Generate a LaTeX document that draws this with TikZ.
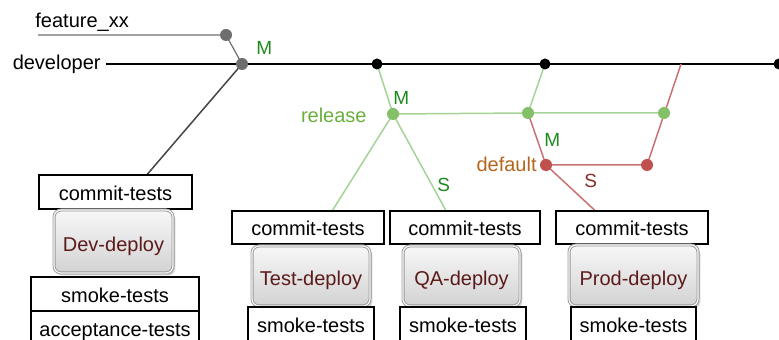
\documentclass[tikz,border=0pt]{standalone}
\usepackage{fontspec}
\setmainfont{Liberation Sans}
\usetikzlibrary{calc,shadows}
\pgfdeclarelayer{bg}
\pgfsetlayers{bg,main}

\definecolor{branchgray}{HTML}{6E6E6E}
\definecolor{mergegray}{HTML}{454545}
\definecolor{relline}{HTML}{A5D396}
\definecolor{reldot}{HTML}{84C068}
\definecolor{reltext}{HTML}{6AAF3D}
\definecolor{markgreen}{HTML}{1E8A1E}
\definecolor{defline}{HTML}{C87272}
\definecolor{defdot}{HTML}{C0504D}
\definecolor{deftext}{HTML}{B5651D}
\definecolor{markred}{HTML}{8B2B2B}
\definecolor{btntext}{HTML}{5C1A1A}

\begin{document}
\begin{tikzpicture}[x=0.5pt,y=-0.5pt,
  testbox/.style={draw=black, line width=0.7pt, fill=white, inner sep=0pt,
    font=\fontsize{10}{12}\selectfont, text height=8.5pt, text depth=0pt},
  deploybtn/.style={rounded corners=3.5pt, draw=gray!80, line width=0.45pt,
    double=gray!6, double distance=0.6pt,
    top color=gray!6, bottom color=gray!35, inner sep=0pt,
    text=btntext, font=\fontsize{10}{12}\selectfont,
    text height=10pt, text depth=0pt,
    drop shadow={opacity=0.35, shadow xshift=1.2pt, shadow yshift=-1.2pt}},
  dot/.style={circle, fill=#1, inner sep=0pt, minimum size=6pt},
  lbl/.style={inner sep=0pt, font=\fontsize{10}{12}\selectfont},
  marktxt/.style={inner sep=0pt, font=\fontsize{9.5}{11}\selectfont},
  branch/.style={line width=0.75pt}
]
\useasboundingbox (0,0) rectangle (779,340);
\clip (0,0) rectangle (779,340);

% test stages
\node[testbox, minimum width=76.5pt, minimum height=17pt] (devc) at (115.5,192) {commit-tests};
\node[deploybtn, minimum width=59.5pt, minimum height=31.5pt] (devd) at (113.5,241.5) {Dev-deploy};
\node[testbox, minimum width=84pt, minimum height=17pt] (devs) at (115,294) {smoke-tests};
\node[testbox, minimum width=84pt, minimum height=17pt] (deva) at (115,328) {acceptance-tests};

\node[testbox, minimum width=76pt, minimum height=16.5pt] (testc) at (308,227.5) {commit-tests};
\node[deploybtn, minimum width=59pt, minimum height=30pt] (testd) at (311,276) {Test-deploy};
\node[testbox, minimum width=63pt, minimum height=17pt] (tests) at (311,324) {smoke-tests};

\node[testbox, minimum width=75pt, minimum height=16.5pt] (qac) at (465,227.5) {commit-tests};
\node[deploybtn, minimum width=58.5pt, minimum height=30pt] (qad) at (461.5,276) {QA-deploy};
\node[testbox, minimum width=63pt, minimum height=17pt] (qas) at (463,324) {smoke-tests};

\node[testbox, minimum width=76pt, minimum height=16.5pt] (prodc) at (632,227.5) {commit-tests};
\node[deploybtn, minimum width=64.5pt, minimum height=30.5pt] (prodd) at (633.5,275.5) {Prod-deploy};
\node[testbox, minimum width=62.5pt, minimum height=17pt] (prods) at (633.5,324) {smoke-tests};

% commits
\node[dot=branchgray] (f1) at (226,35) {};
\node[dot=branchgray] (m1) at (242,64) {};
\node[dot=black, minimum size=5.5pt] (b1) at (377,64) {};
\node[dot=black, minimum size=5.5pt] (b2) at (545,64) {};
\node[dot=black, minimum size=5.5pt] (b3) at (779,64) {};
\node[dot=reldot] (g1) at (393,114) {};
\node[dot=reldot] (g2) at (528,113) {};
\node[dot=reldot] (g3) at (664,113) {};
\node[dot=defdot] (r1) at (546,165) {};
\node[dot=defdot] (r2) at (647,165) {};

\coordinate (fstart) at (38,35);
\coordinate (dstart) at (106,64);
\coordinate (dfork) at (681,64);

% branch lines
\begin{pgfonlayer}{bg}
  \draw[branch, branchgray, line width=0.6pt] (fstart) -- (f1.center) -- (m1.center);
  \draw[branch, black] (dstart) -- (b3.center);
  \draw[branch, mergegray] (m1.center) -- ($(devc.north west)!0.706!(devc.north east)$);
  \draw[branch, relline] (b1.center) -- (g1.center) -- (g2.center) -- (g3.center);
  \draw[branch, relline] (b2.center) -- (g2.center);
  \draw[branch, relline] (g1.center) -- ($(testc.north west)!0.66!(testc.north east)$);
  \draw[branch, relline] (g1.center) -- ($(qac.north west)!0.373!(qac.north east)$);
  \draw[branch, defline] (g2.center) -- (r1.center) -- (r2.center) -- (dfork);
  \draw[branch, defline] (r1.center) -- ($(prodc.north west)!0.257!(prodc.north east)$);
\end{pgfonlayer}

% branch names
\node[lbl, anchor=base west] (lfeat) at (35,28) {feature\_xx};
\node[lbl, anchor=base east] (ldev) at (101,70) {developer};
\node[lbl, anchor=base east, text=reltext] (lrel) at (367,123) {release};
\node[lbl, anchor=base east, text=deftext] (ldef) at (537,172) {default};

% merge / split marks
\node[marktxt, anchor=base west, text=markgreen] (mk1) at (256,55) {M};
\node[marktxt, anchor=base west, text=markgreen] (mk2) at (393,105) {M};
\node[marktxt, anchor=base west, text=markgreen] (sk1) at (437,192) {S};
\node[marktxt, anchor=base west, text=markgreen] (mk3) at (544,147) {M};
\node[marktxt, anchor=base west, text=markred] (sk2) at (584,188) {S};
\end{tikzpicture}
\end{document}
